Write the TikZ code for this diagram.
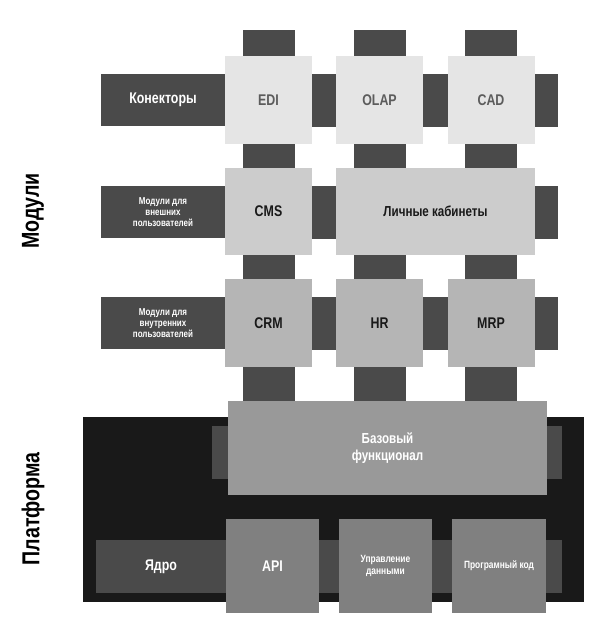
\documentclass[tikz,border=0pt]{standalone}
\usepackage{fontspec}
\setmainfont[FakeStretch=0.8]{Liberation Sans}
\usetikzlibrary{positioning}
\pgfdeclarelayer{bg}
\pgfdeclarelayer{mid}
\pgfsetlayers{bg,mid,main}
\definecolor{mdark}{gray}{0.29}
\definecolor{mblack}{gray}{0.1}
\definecolor{mrowa}{gray}{0.9}
\definecolor{mrowb}{gray}{0.8}
\definecolor{mrowc}{gray}{0.71}
\definecolor{mbase}{gray}{0.6}
\definecolor{mcore}{gray}{0.5}
\tikzset{box/.style = {inner sep = 0, minimum width = 87, minimum height = 88,
                       align = center, font = \bfseries\fontsize{15.5}{17}\selectfont}}
\tikzset{lab/.style = {fill = mdark, text = white, inner sep = 0, minimum width = 124,
                       minimum height = 52, align = center}}
\tikzset{small/.style = {font = \bfseries\fontsize{10}{11}\selectfont}}
\tikzset{stub/.style = {mdark, line width = 52}}
\tikzset{band/.style = {mdark, line width = 53}}
\tikzset{side/.style = {rotate = 90, font = \bfseries\fontsize{24.5}{26}\selectfont}}

\begin{document}
\begin{tikzpicture}[x = 1pt, y = -1pt]
    \useasboundingbox (0, 0) rectangle (600, 630);

    % modules
    \node [box, fill = mrowa, text = mdark!90] (edi) at (268.5, 100) {EDI};
    \node [box, fill = mrowa, text = mdark!90] (olap) at (379.5, 100) {OLAP};
    \node [box, fill = mrowa, text = mdark!90] (cad) at (491, 100) {CAD};
    \node [lab, font = \bfseries\fontsize{15.5}{17}\selectfont] (conn) at (163, 100) {Конекторы};

    \node [box, fill = mrowb, text = mblack, minimum height = 87] (cms) at (268.5, 211.5) {CMS};
    \node [box, fill = mrowb, text = mblack, minimum height = 87, minimum width = 199,
           font = \bfseries\fontsize{14.5}{16}\selectfont] (cab) at (435.5, 211.5) {Личные кабинеты};
    \node [lab, small] (ext) at (163, 212) {Модули для\\внешних\\пользователей};

    \node [box, fill = mrowc, text = mblack] (crm) at (268.5, 323) {CRM};
    \node [box, fill = mrowc, text = mblack] (hr) at (379.5, 323) {HR};
    \node [box, fill = mrowc, text = mblack] (mrp) at (491, 323) {MRP};
    \node [lab, small] (int) at (163, 323) {Модули для\\внутренних\\пользователей};

    % platform
    \begin{pgfonlayer}{bg}
      \node [fill = mblack, inner sep = 0, minimum width = 501, minimum height = 185] (plat) at (333.5, 509.5) {};
    \end{pgfonlayer}
    \node [box, fill = mbase, text = white, minimum width = 319, minimum height = 94,
           font = \bfseries\fontsize{14.5}{17}\selectfont] (base) at (387.5, 448) {Базовый\\функционал};
    \node [box, fill = mcore, text = white, minimum width = 93, minimum height = 94] (api) at (272.5, 566) {API};
    \node [box, fill = mcore, text = white, minimum width = 93, minimum height = 94,
           font = \bfseries\fontsize{10.5}{12.5}\selectfont] (data) at (385.5, 566) {Управление\\данными};
    \node [box, fill = mcore, text = white, minimum width = 94, minimum height = 94,
           font = \bfseries\fontsize{10.5}{12.5}\selectfont] (code) at (499, 566) {Програмный код};
    \node [lab, minimum width = 130, minimum height = 53,
           font = \bfseries\fontsize{15.5}{17}\selectfont] (core) at (161, 566.5) {Ядро};

    \node [side] (mod) at (33, 211) {Модули};
    \node [side] (pl) at (33, 509) {Платформа};

    \coordinate (r1) at (558, 100);
    \coordinate (r2) at (558, 212);
    \coordinate (r3) at (558, 323);
    \coordinate (bl) at (212, 452.5);
    \coordinate (br) at (562, 452.5);
    \coordinate (cr) at (562, 566.5);

    \begin{pgfonlayer}{mid}
      \foreach \n/\x in {edi/268.5, olap/379.5, cad/491} {
        \coordinate (t-\n) at (\x, 30);
        \draw [stub] (t-\n) -- (\n.north);
      }
      \draw [stub] (edi) -- (cms);
      \draw [stub] (olap.south) -- (olap.south |- cab.north);
      \draw [stub] (cad.south) -- (cad.south |- cab.north);
      \draw [stub] (cms) -- (crm);
      \draw [stub] (hr.north |- cab.south) -- (hr.north);
      \draw [stub] (mrp.north |- cab.south) -- (mrp.north);
      \foreach \n in {crm, hr, mrp} {
        \draw [stub] (\n.south) -- (\n.south |- base.north);
      }
      \draw [band] (conn.east) -- (r1);
      \draw [band] (ext.east) -- (r2);
      \draw [band] (int.east) -- (r3);
      \draw [band] (bl) -- (br);
      \draw [band] (core.east) -- (cr);
    \end{pgfonlayer}
\end{tikzpicture}
\end{document}
